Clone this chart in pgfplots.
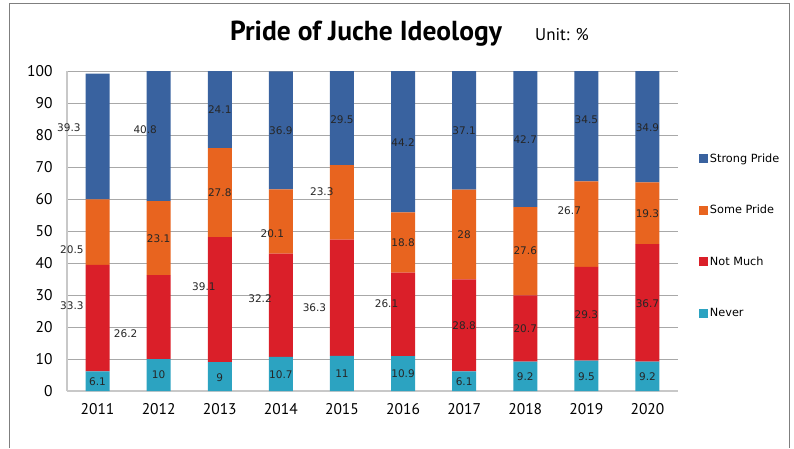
\documentclass[border=0pt]{standalone}
\usepackage{pgfplots}
\pgfplotsset{compat=1.18}
\usepackage{pgfplotstable}
\usepackage{fontspec}
\setmainfont{PT Sans}
\newfontfamily\labfont{DejaVu Sans}
\definecolor{cNever}{HTML}{2CA3C1}
\definecolor{cNot}{HTML}{DA1F29}
\definecolor{cSome}{HTML}{E8641F}
\definecolor{cStrong}{HTML}{39629F}
\definecolor{gridgray}{HTML}{A8A8A8}
\definecolor{axisgray}{HTML}{C8C8C8}
\definecolor{framegray}{HTML}{7F7F7F}

% shares per year (%)
\pgfplotstableread{
x never notmuch some strong
0 6.1  33.3 20.5 39.3
1 10   26.2 23.1 40.8
2 9    39.1 27.8 24.1
3 10.7 32.2 20.1 36.9
4 11   36.3 23.3 29.5
5 10.9 26.1 18.8 44.2
6 6.1  28.8 28   37.1
7 9.2  20.7 27.6 42.7
8 9.5  29.3 26.7 34.5
9 9.2  36.7 19.3 34.9
}\pridedata

% where the value labels sit (as in the source chart)
\pgfplotstableread{
x y lab
-0.47 82.2 39.3
-0.42 44.1 20.5
-0.42 26.7 33.3
0     2.9  6.1
0.78  81.6 40.8
1     47.5 23.1
0.46  18.0 26.2
1     5.0  10
2     87.8 24.1
2     62.0 27.8
1.74  32.6 39.1
2     4.3  9
3     81.3 36.9
2.86  49.3 20.1
2.66  29.0 32.2
3     5.0  10.7
4     84.9 29.5
3.67  62.2 23.3
3.55  26.1 36.3
4     5.3  11
5     77.7 44.2
5     46.2 18.8
4.73  27.3 26.1
5     5.3  10.9
6     81.3 37.1
6     48.8 28
6     20.3 28.8
6     2.8  6.1
7     78.6 42.7
7     43.7 27.6
7     19.5 20.7
7     4.5  9.2
8     84.7 34.5
7.72  56.3 26.7
8     23.8 29.3
8     4.5  9.5
9     82.4 34.9
9     55.4 19.3
9     27.3 36.7
9     4.5  9.2
}\labeldata

\begin{document}
\begin{tikzpicture}
  \useasboundingbox (0pt,0pt) rectangle (794pt,448pt);
  \draw[framegray, line width=1pt] (9pt,0pt) -- (9pt,444.5pt) -- (789pt,444.5pt) -- (789pt,0pt);

  \node[font=\bfseries\fontsize{27.5}{27.5}\selectfont] at (366pt,414pt) {Pride of Juche Ideology};
  \node[font=\fontsize{17}{17}\selectfont] at (562pt,413pt) {Unit: \%};

  \begin{axis}[
    at={(67pt,57pt)}, anchor=south west,
    scale only axis, width=611pt, height=320pt,
    ybar stacked, bar width=24pt,
    xmin=-0.5, xmax=9.5, ymin=0, ymax=100,
    xtick={0,...,9},
    xticklabels={2011,2012,2013,2014,2015,2016,2017,2018,2019,2020},
    ytick={0,10,...,100},
    ymajorgrids, grid style={gridgray, line width=0.8pt},
    axis x line*=bottom, axis y line*=left,
    axis line style={axisgray, line width=1.6pt, -},
    tick style={draw=none},
    ticklabel style={font=\fontsize{15.5}{15.5}\selectfont},
    /pgf/number format/assume math mode=true,
    yticklabel style={anchor=east, xshift=-11pt},
    xticklabel style={yshift=-9pt},
    legend style={draw=none, fill=none, at={(1.029,0.755)}, anchor=north west,
      font=\labfont\fontsize{11.3}{11.3}\selectfont, row sep=37.5pt,
      nodes={inner sep=2pt}},
    legend cell align=left,
    reverse legend,
    legend image code/.code={\fill[#1] (0pt,-4.5pt) rectangle (9pt,4.5pt);},
  ]
    \addplot[fill=cNever, draw=none] table[x=x, y=never] {\pridedata};
    \addlegendentry{Never}
    \addplot[fill=cNot, draw=none] table[x=x, y=notmuch] {\pridedata};
    \addlegendentry{Not Much}
    \addplot[fill=cSome, draw=none] table[x=x, y=some] {\pridedata};
    \addlegendentry{Some Pride}
    \addplot[fill=cStrong, draw=none] table[x=x, y=strong] {\pridedata};
    \addlegendentry{Strong Pride}
  \end{axis}

  \begin{axis}[
    at={(67pt,57pt)}, anchor=south west,
    scale only axis, width=611pt, height=320pt,
    xmin=-0.5, xmax=9.5, ymin=0, ymax=100,
    hide axis, clip=false,
  ]
    \addplot[draw=none, mark=none, nodes near coords, point meta=explicit symbolic,
      nodes near coords align=center,
      every node near coord/.append style={font=\labfont\fontsize{10.5}{10.5}\selectfont, text=black!85, inner sep=0pt}]
      table[x=x, y=y, meta=lab] {\labeldata};
  \end{axis}
\end{tikzpicture}
\end{document}
